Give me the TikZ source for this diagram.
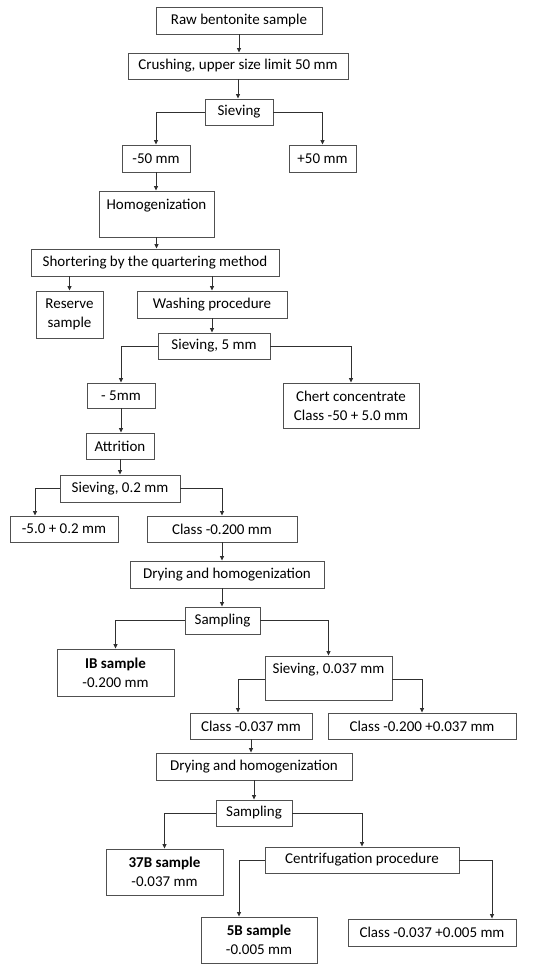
\documentclass[tikz,border=0pt]{standalone}
\usepackage{fontspec}
\setmainfont{Carlito}
\usepackage{tikz}
\usetikzlibrary{arrows.meta}
\definecolor{boxLine}{HTML}{505050}
\definecolor{connLine}{HTML}{303030}
\tikzset{
  pbox/.style={rectangle, draw=boxLine, line width=0.9pt, fill=white,
    align=center, inner sep=0pt, font=\fontsize{15}{19}\selectfont},
  conn/.style={draw=connLine, line width=0.8pt,
    -{Triangle[length=4.5pt, width=4pt]}}
}
\newcommand{\pnode}[6]{%
  \node[pbox, minimum width=#4pt, minimum height=#5pt] (#1) at (#2,#3) {#6};%
}

\begin{document}
\begin{tikzpicture}[x=1pt, y=-1pt]
\useasboundingbox (0,0) rectangle (550,973);

% --- BOXES ---
% upper part
\pnode{raw}    {239}  {20.5} {166}{27}{Raw bentonite sample}
\pnode{crush}  {238}  {66}   {220}{26}{Crushing, upper size limit 50 mm}
\pnode{sieveA} {239}  {112}  {68} {26}{Sieving}
\pnode{minA}   {156}  {158.5}{68} {27}{-50 mm}
\pnode{plusA}  {322.5}{158.5}{67} {27}{+50 mm}
\pnode{homog}  {156.5}{214}  {115}{46}{Homogenization\\\mbox{}}
\pnode{short}  {155}  {262.5}{248}{27}{Shortering by the quartering method}
\pnode{reserve}{69.5} {314.5}{67} {47}{Reserve\\sample}
\pnode{wash}   {212}  {304.5}{150}{27}{Washing procedure}
% washing branch
\pnode{sieveB} {214}  {346}  {112}{26}{Sieving, 5 mm}
\pnode{minB}   {121}  {395.5}{68} {25}{- 5mm}
\pnode{chert}  {351}  {405.5}{136}{45}{Chert concentrate\\Class -50 + 5.0 mm}
\pnode{attr}   {120}  {446}  {68} {26}{Attrition}
\pnode{sieveC} {120}  {488.5}{120}{27}{Sieving, 0.2 mm}
\pnode{fracC}  {64}   {529}  {108}{26}{-5.0 + 0.2 mm}
\pnode{classC} {222}  {529}  {150}{26}{Class -0.200 mm}
\pnode{dryA}   {227}  {574.5}{194}{27}{Drying and homogenization}
\pnode{sampA}  {222.5}{620.5}{75} {27}{Sampling}
\pnode{ibS}    {115.5}{672.5}{117}{47}{\textbf{IB sample}\\-0.200 mm}
% lower part
\pnode{sieveD} {328.5}{678}  {127}{44}{Sieving, 0.037 mm\\\mbox{}}
\pnode{classD} {251}  {726}  {122}{26}{Class -0.037 mm}
\pnode{fracD}  {422}  {726}  {188}{26}{Class -0.200 +0.037 mm}
\pnode{dryB}   {254}  {766.5}{196}{27}{Drying and homogenization}
\pnode{sampB}  {254}  {813}  {76} {26}{Sampling}
\pnode{s37}    {164.5}{872}  {117}{46}{\textbf{37B sample}\\-0.037 mm}
\pnode{centr}  {362}  {860}  {194}{26}{Centrifugation procedure}
\pnode{s5}     {259}  {940}  {116}{46}{\textbf{5B sample}\\-0.005 mm}
\pnode{fracE}  {432}  {932.5}{168}{27}{Class -0.037 +0.005 mm}

% --- off-centre arrow ends ---
\coordinate (fracCin)  at ([xshift=-29pt]fracC.north);
\coordinate (classDin) at ([xshift=-13pt]classD.north);
\coordinate (s5in)     at ([xshift=-20pt]s5.north);
\coordinate (fracEin)  at ([xshift=60pt]fracE.north);

% --- CONNECTORS ---
\draw[conn] (raw.south) -- (raw.south |- crush.north);
\draw[conn] (crush.south) -- (crush.south |- sieveA.north);
\draw[conn] (sieveA.west) -| (minA.north);
\draw[conn] (sieveA.east) -| (plusA.north);
\draw[conn] (minA.south) -- (homog.north -| minA.south);
\draw[conn] (homog.south) -- (homog.south |- short.north);
\draw[conn] (reserve.north |- short.south) -- (reserve.north);
\draw[conn] (wash.north |- short.south) -- (wash.north);
\draw[conn] (wash.south) -- (wash.south |- sieveB.north);
\draw[conn] (sieveB.west) -| (minB.north);
\draw[conn] (sieveB.east) -| (chert.north);
\draw[conn] (minB.south) -- (minB.south |- attr.north);
\draw[conn] (attr.south) -- (sieveC.north);
\draw[conn] (sieveC.west) -| (fracCin);
\draw[conn] (sieveC.east) -| (classC.north);
\draw[conn] (classC.south) -- (classC.south |- dryA.north);
\draw[conn] (dryA.south -| classC.south) -- (sampA.north -| classC.south);
\draw[conn] (sampA.west) -| (ibS.north);
\draw[conn] (sampA.east) -| (sieveD.north);
\draw[conn] ([yshift=-1pt]sieveD.west) -| (classDin);
\draw[conn] ([yshift=-1pt]sieveD.east) -| (fracD.north);
\draw[conn] (classD.south) -- (classD.south |- dryB.north);
\draw[conn] (dryB.south) -- (sampB.north);
\draw[conn] (sampB.west) -| (s37.north);
\draw[conn] (sampB.east) -| (centr.north);
\draw[conn] (centr.west) -| (s5in);
\draw[conn] (centr.east) -| (fracEin);

\end{tikzpicture}
\end{document}
